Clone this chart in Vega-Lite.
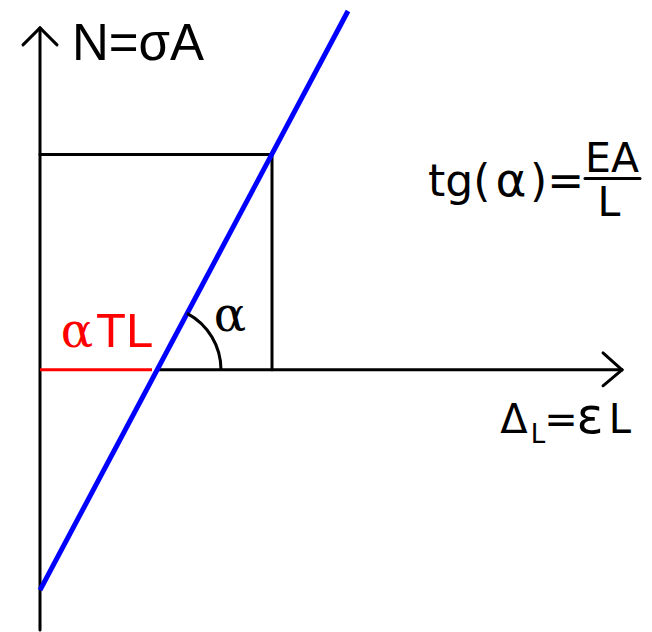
{
  "$schema": "https://vega.github.io/schema/vega-lite/v6.json",
  "width": 652,
  "height": 632,
  "autosize": {"type": "fit", "contains": "padding"},
  "padding": 0,
  "background": "white",
  "config": {"view": {"stroke": null}},
  "encoding": {
    "x": {"field": "x", "type": "quantitative", "scale": {"domain": [-40, 612], "nice": false, "zero": false}, "axis": null},
    "y": {"field": "y", "type": "quantitative", "scale": {"domain": [-261, 371], "nice": false, "zero": false}, "axis": null}
  },
  "layer": [
    {
      "description": "Axes with arrow heads, the construction lines and the fraction bar",
      "data": {"values": [
        {"part": "N axis", "x": 0, "y": -261, "x2": 0, "y2": 343},
        {"part": "N arrow", "x": -17, "y": 326, "x2": 0, "y2": 343},
        {"part": "N arrow", "x": 17, "y": 326, "x2": 0, "y2": 343},
        {"part": "dL axis", "x": 117, "y": 0, "x2": 582, "y2": 0},
        {"part": "dL arrow", "x": 563, "y": 17, "x2": 582, "y2": 0},
        {"part": "dL arrow", "x": 563, "y": -16, "x2": 582, "y2": 0},
        {"part": "guide", "x": 0, "y": 216, "x2": 232, "y2": 216},
        {"part": "guide", "x": 232, "y": 216, "x2": 232, "y2": 0},
        {"part": "fraction bar", "x": 545, "y": 192, "x2": 600, "y2": 192}
      ]},
      "mark": {"type": "rule", "color": "black", "strokeWidth": 3, "strokeCap": "round"},
      "encoding": {"x2": {"field": "x2"}, "y2": {"field": "y2"}}
    },
    {
      "description": "Thermal offset alpha*T*L",
      "data": {"values": [{"x": 0, "y": 0, "x2": 112, "y2": 0}]},
      "mark": {"type": "rule", "color": "#ff0000", "strokeWidth": 3},
      "encoding": {"x2": {"field": "x2"}, "y2": {"field": "y2"}}
    },
    {
      "description": "Force-elongation line",
      "data": {"values": [{"x": 0, "y": -221, "x2": 308, "y2": 360}]},
      "mark": {"type": "rule", "color": "#0000ff", "strokeWidth": 5},
      "encoding": {"x2": {"field": "x2"}, "y2": {"field": "y2"}}
    },
    {
      "description": "Angle marker between the line and the elongation axis",
      "data": {"values": [{"x": 117, "y": 0, "a0": 0, "a1": 62}]},
      "mark": {"type": "arc", "radius": 64, "radius2": 64, "filled": false, "color": "black", "strokeWidth": 3},
      "encoding": {
        "theta": {"field": "a0", "type": "quantitative", "stack": null, "scale": {"domain": [90, -270], "range": [0, 6.283185307]}},
        "theta2": {"field": "a1"}
      }
    },
    {
      "data": {"values": [{"x": 32, "y": 311, "label": "N=σA"}]},
      "mark": {"type": "text", "align": "left", "baseline": "alphabetic", "font": "Liberation Sans", "fontSize": 51, "color": "black"},
      "encoding": {"text": {"field": "label"}}
    },
    {
      "data": {"values": [
        {"x": 388, "y": 174, "label": "tg("},
        {"x": 490, "y": 174, "label": ")="}
      ]},
      "mark": {"type": "text", "align": "left", "baseline": "alphabetic", "font": "DejaVu Sans", "fontSize": 44, "color": "black"},
      "encoding": {"text": {"field": "label"}}
    },
    {
      "data": {"values": [{"x": 471, "y": 174, "label": "α"}]},
      "mark": {"type": "text", "align": "center", "baseline": "alphabetic", "font": "DejaVu Sans", "fontSize": 47, "color": "black"},
      "encoding": {"text": {"field": "label"}}
    },
    {
      "data": {"values": [{"x": 190, "y": 39, "label": "α"}]},
      "mark": {"type": "text", "align": "center", "baseline": "alphabetic", "font": "DejaVu Serif", "fontSize": 48, "color": "black"},
      "encoding": {"text": {"field": "label"}}
    },
    {
      "data": {"values": [{"x": 37, "y": 23, "label": "α"}]},
      "mark": {"type": "text", "align": "center", "baseline": "alphabetic", "font": "DejaVu Serif", "fontSize": 48, "color": "#ff0000"},
      "encoding": {"text": {"field": "label"}}
    },
    {
      "data": {"values": [{"x": 56, "y": 23, "label": "TL"}]},
      "mark": {"type": "text", "align": "left", "baseline": "alphabetic", "font": "Liberation Sans", "fontSize": 49, "color": "#ff0000"},
      "encoding": {"text": {"field": "label"}}
    },
    {
      "data": {"values": [{"x": 572, "y": 198, "label": "EA"}]},
      "mark": {"type": "text", "align": "center", "baseline": "alphabetic", "font": "DejaVu Sans", "fontSize": 41, "color": "black"},
      "encoding": {"text": {"field": "label"}}
    },
    {
      "data": {"values": [{"x": 569, "y": 154, "label": "L"}]},
      "mark": {"type": "text", "align": "center", "baseline": "alphabetic", "font": "DejaVu Sans", "fontSize": 41, "color": "black"},
      "encoding": {"text": {"field": "label"}}
    },
    {
      "data": {"values": [
        {"x": 474, "y": -63, "label": "Δ"},
        {"x": 521, "y": -63, "label": "="},
        {"x": 580, "y": -63, "label": "L"}
      ]},
      "mark": {"type": "text", "align": "center", "baseline": "alphabetic", "font": "DejaVu Sans", "fontSize": 40, "color": "black"},
      "encoding": {"text": {"field": "label"}}
    },
    {
      "data": {"values": [{"x": 550, "y": -63, "label": "ε"}]},
      "mark": {"type": "text", "align": "center", "baseline": "alphabetic", "font": "DejaVu Sans", "fontSize": 50, "color": "black"},
      "encoding": {"text": {"field": "label"}}
    },
    {
      "data": {"values": [{"x": 498, "y": -73, "label": "L"}]},
      "mark": {"type": "text", "align": "center", "baseline": "alphabetic", "font": "DejaVu Sans", "fontSize": 26, "color": "black"},
      "encoding": {"text": {"field": "label"}}
    }
  ]
}
